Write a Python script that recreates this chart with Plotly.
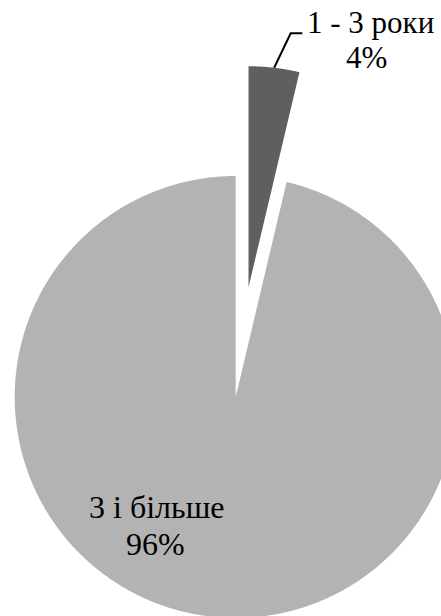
import numpy as np
import plotly.graph_objects as go

# ---- data ----
labels = ["1 - 3 роки", "3 і більше"]
values = [3.7, 96.3]
colors = ["#5f5f5f", "#b3b3b3"]
pulls = [0.5, 0.0]

# ---- layout geometry (pixels) ----
W, H = 441, 616
R_PX = 221.0
CX_PX, CY_PX = 235.7, 397.0


def to_data(px, py):
    return (px - CX_PX) / R_PX, (CY_PX - py) / R_PX


total = float(sum(values))
fig = go.Figure()
start = 0.0
arc_mids = []
for lab, v, c, p in zip(labels, values, colors, pulls):
    frac = v / total
    a0 = start * 2 * np.pi
    a1 = (start + frac) * 2 * np.pi
    am = (a0 + a1) / 2
    ox, oy = p * np.sin(am), p * np.cos(am)
    t = np.linspace(a0, a1, 600)
    xs = np.concatenate([[ox], ox + np.sin(t), [ox]])
    ys = np.concatenate([[oy], oy + np.cos(t), [oy]])
    fig.add_trace(go.Scatter(
        x=xs, y=ys, fill="toself", fillcolor=c, mode="none",
        hoverinfo="skip", showlegend=False, name=lab))
    arc_mids.append((ox + np.sin(am), oy + np.cos(am)))
    start += frac

pcts = [f"{round(v / total * 100)}%" for v in values]

# leader line for the small slice
ex, ey = to_data(290.7, 33.3)
hx, hy = to_data(302.3, 33.3)
fig.add_trace(go.Scatter(
    x=[arc_mids[0][0], ex, hx], y=[arc_mids[0][1], ey, hy],
    mode="lines", line=dict(color="black", width=2),
    hoverinfo="skip", showlegend=False))


def label(text, px, py, size):
    x, y = to_data(px, py)
    fig.add_annotation(x=x, y=y, xref="x", yref="y", text=text, showarrow=False,
                       font=dict(family="Liberation Serif", size=size, color="black"),
                       xanchor="center", yanchor="middle")


label(labels[0], 370.5, 22.8, 31)
label(pcts[0], 366.5, 57.8, 31)
label(labels[1], 156.7, 506.5, 32)
label(pcts[1], 155.0, 544.2, 32)

x0 = (0 - CX_PX) / R_PX
x1 = (W - CX_PX) / R_PX
y1 = CY_PX / R_PX
y0 = (CY_PX - H) / R_PX
fig.update_xaxes(range=[x0, x1], visible=False, fixedrange=True)
fig.update_yaxes(range=[y0, y1], visible=False, fixedrange=True)
fig.update_layout(
    width=W, height=H,
    margin=dict(l=0, r=0, t=0, b=0),
    paper_bgcolor="white", plot_bgcolor="white",
    showlegend=False,
)
fig.write_html(
    "out.html",
    config={"displayModeBar": False},
    post_script="document.body.style.margin='0';document.body.style.overflow='hidden';",
)
